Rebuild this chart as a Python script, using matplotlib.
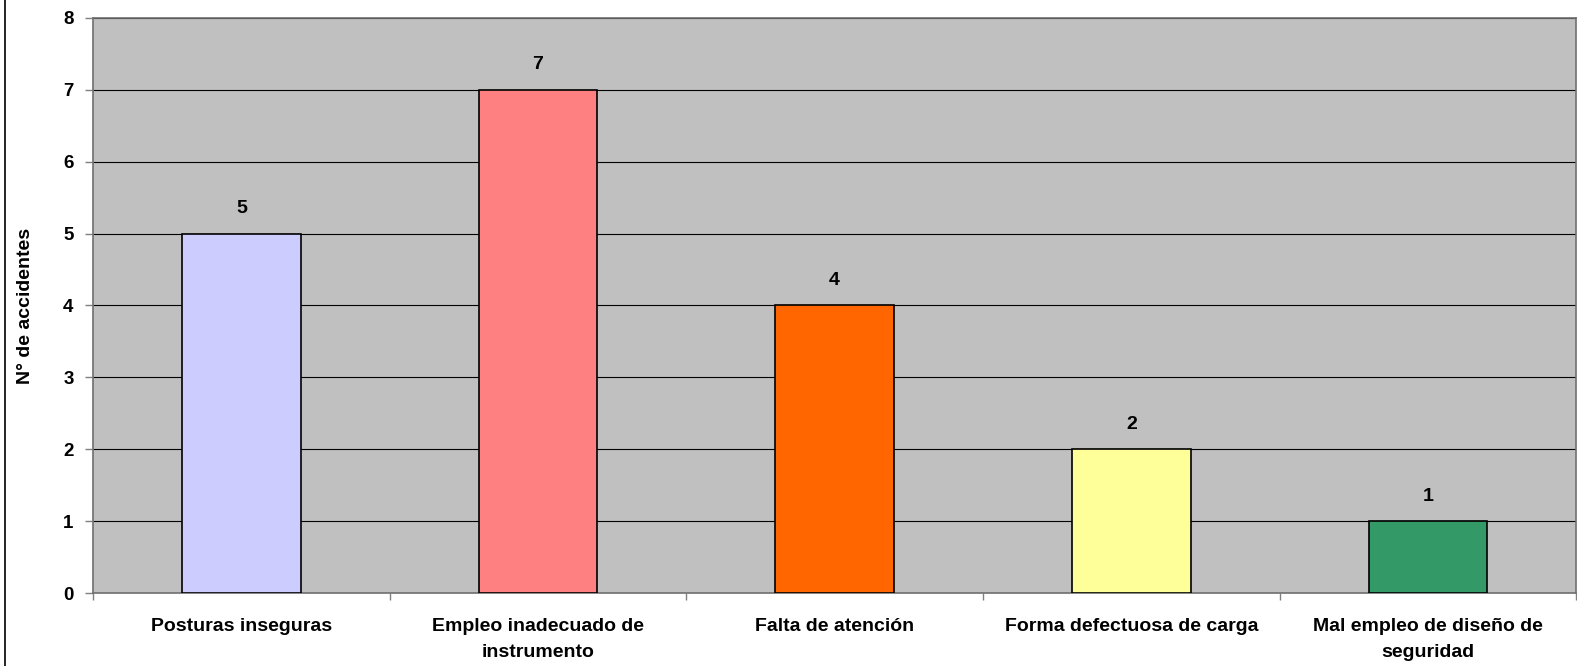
import matplotlib
matplotlib.use("Agg")
import matplotlib.pyplot as plt
from matplotlib.lines import Line2D
import numpy as np

categories = [
    "Posturas inseguras",
    "Empleo inadecuado de\ninstrumento",
    "Falta de atención",
    "Forma defectuosa de carga",
    "Mal empleo de diseño de\nseguridad",
]
accidents = [5, 7, 4, 2, 1]
bar_colors = ["#CCCCFF", "#FF8080", "#FF6600", "#FFFF99", "#339966"]
y_ticks = [0, 1, 2, 3, 4, 5, 6, 7, 8]
y_label = "N° de accidentes"

plt.rcParams["font.family"] = ["Liberation Sans", "DejaVu Sans"]
plt.rcParams["font.weight"] = "bold"

fig = plt.figure(figsize=(15.77, 6.66), dpi=100)
ax = fig.add_axes([0.059, 0.1092, 0.9405, 0.8642])
ax.set_facecolor("#C0C0C0")

x = np.arange(len(categories))
ax.bar(x, accidents, width=0.4, color=bar_colors, edgecolor="black",
       linewidth=1.2, zorder=3)

for xi, v in zip(x, accidents):
    ax.annotate(str(v), (xi, v), xytext=(0, 25), textcoords="offset pixels",
                ha="center", va="center", fontsize=14, fontweight="bold",
                zorder=4)

ax.set_xlim(-0.5, len(categories) - 0.5)
ax.set_ylim(0, 8)
ax.set_yticks(y_ticks)
ax.set_yticklabels([str(t) for t in y_ticks], fontsize=13.5, fontweight="bold")
ax.yaxis.grid(True, color="black", linewidth=0.8, zorder=1)
ax.set_axisbelow(True)

ax.set_xticks(x)
ax.set_xticklabels(categories, fontsize=14, fontweight="bold",
                   linespacing=1.7)
ax.set_xticks(np.arange(len(categories) + 1) - 0.5, minor=True)
ax.tick_params(axis="x", which="major", length=0, pad=18)
ax.tick_params(axis="x", which="minor", length=5, width=1, color="#808080",
               direction="out")
ax.tick_params(axis="y", length=6, width=1, color="#808080", pad=8,
               direction="out")

for side in ("left", "bottom", "top", "right"):
    ax.spines[side].set_color("#707070")
    ax.spines[side].set_linewidth(1.2)

ax.set_ylabel(y_label, fontsize=14, fontweight="bold", labelpad=21)

fig.add_artist(Line2D([5 / 1577, 5 / 1577], [0, 1], transform=fig.transFigure,
                      color="black", linewidth=1.2))

fig.savefig("out.png", dpi=100, facecolor="white")
